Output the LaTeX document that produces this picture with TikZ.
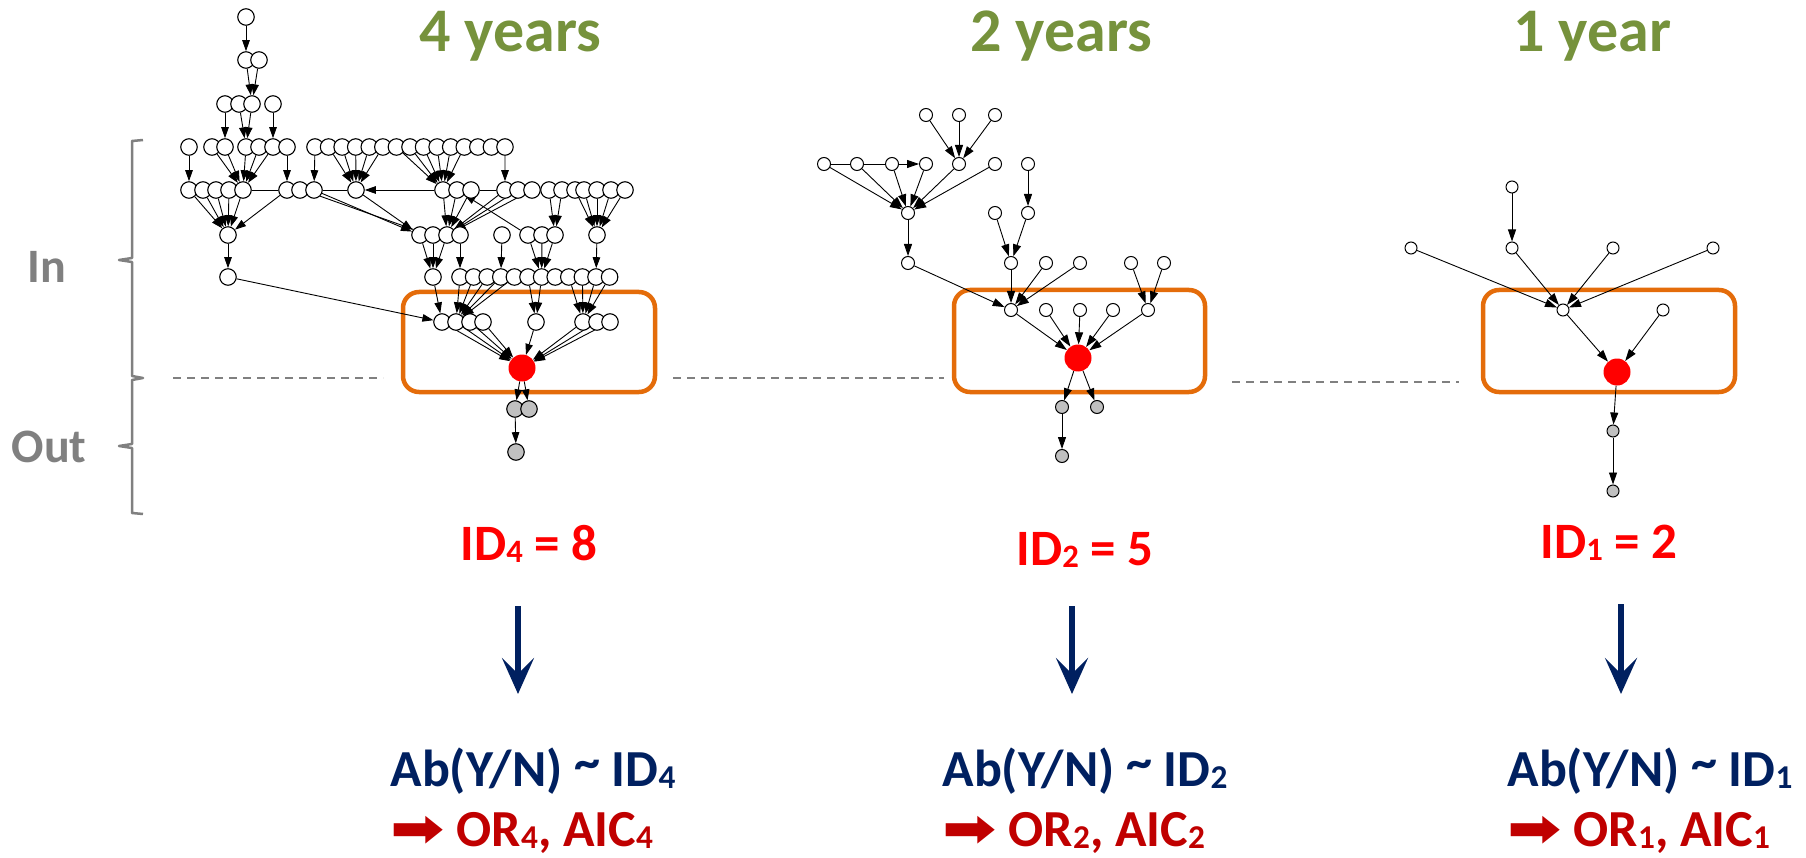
\documentclass[tikz,border=0pt]{standalone}
\usepackage{fontspec}
\setmainfont{Carlito}
\newfontfamily\arrowglyph{DejaVu Sans}
\usepackage{graphicx}
\usetikzlibrary{arrows.meta}
\definecolor{yeargreen}{HTML}{76923C}
\definecolor{idred}{HTML}{FF0000}
\definecolor{navyblue}{HTML}{002060}
\definecolor{darkred}{HTML}{C00000}
\definecolor{frameorange}{HTML}{E46C0A}
\definecolor{guidegray}{HTML}{808080}
\definecolor{outgray}{HTML}{C0C0C0}
\pgfdeclarelayer{frames}
\pgfdeclarelayer{links}
\pgfsetlayers{frames,links,main}
\newcommand\lowidx[1]{\raisebox{-0.04em}{\scalebox{0.64}{#1}}}
\newcommand\hightilde{\raisebox{0.12em}{\textasciitilde}}
\newcommand\resarrow{{\arrowglyph\scalebox{1.25}[1]{➡}}}
\begin{document}
\begin{tikzpicture}[x=1pt,y=-1pt,
  bn/.style={circle,draw=black,fill=white,line width=1.1pt,minimum size=16.5pt,inner sep=0pt},
  sn/.style={circle,draw=black,fill=white,line width=1pt,minimum size=13pt,inner sep=0pt},
  tn/.style={sn,minimum size=12pt},
  hubnode/.style={circle,fill=red,draw=none,minimum size=27pt,inner sep=0pt},
  outbig/.style={bn,fill=outgray},
  outsmall/.style={sn,fill=outgray},
  outtiny/.style={tn,fill=outgray},
  dag/.style={line width=0.9pt,-{Triangle[length=11pt,width=7.5pt]}},
  sdag/.style={line width=0.9pt,-{Triangle[length=12pt,width=8pt]}},
  plainline/.style={line width=0.9pt},
  yrframe/.style={draw=frameorange,line width=4.5pt,rounded corners=16pt},
  sepline/.style={draw=guidegray,line width=2pt,dash pattern=on 8pt off 6pt},
  bracket/.style={draw=guidegray,line width=2.5pt,line join=round},
  downarrow/.style={draw=navyblue,line width=6pt,-{Stealth[length=36pt,width=32pt,inset=16pt]}},
  yrtext/.style={font=\fontsize{62}{70}\selectfont\bfseries,text=yeargreen,anchor=base},
  idtext/.style={font=\fontsize{51}{60}\selectfont\bfseries,text=idred,anchor=base west},
  abtext/.style={font=\fontsize{52}{60}\selectfont\bfseries,text=navyblue,anchor=base west},
  ortext/.style={font=\fontsize{52}{60}\selectfont\bfseries,text=darkred,anchor=base west},
  inout/.style={font=\fontsize{48}{54}\selectfont\bfseries,text=guidegray}]
\useasboundingbox (0,0) rectangle (1806,858);

% ---------- side bracket and labels ----------
\coordinate (brtop) at (143,140);
\coordinate (brbot) at (143,514);
\draw[bracket] (brtop) -- (132,141) -- (132,258) -- (119,260) -- (132,262)
  -- (132,376) -- (143,378) -- (132,380) -- (132,444) -- (119,446) -- (132,448)
  -- (132,513) -- (brbot);
\node[inout] (inlbl) at (47,267) {In};
\node[inout] (outlbl) at (49,447) {Out};

% ---------- separators ----------
\coordinate (sa1) at (173,378); \coordinate (sa2) at (383,378);
\coordinate (sb1) at (673,378); \coordinate (sb2) at (944,378);
\coordinate (sc1) at (1232,382); \coordinate (sc2) at (1459,382);
\draw[sepline] (sa1) -- (sa2);
\draw[sepline] (sb1) -- (sb2);
\draw[sepline] (sc1) -- (sc2);

% ---------- titles ----------
\node[yrtext] (t4y) at (510,52) {4 years};
\node[yrtext] (t2y) at (1061,52) {2 years};
\node[yrtext] (t1y) at (1592,52) {1 year};

% ---------- 4-year graph ----------
\node[bn] (n1) at (246,17) {};
\node[bn] (n2a) at (246,60) {};
\node[bn] (n2b) at (259,60) {};
\foreach \nm/\x in {n3a/225,n3b/239,n3c/252,n3d/273} \node[bn] (\nm) at (\x,104) {};
\foreach \nm/\x in {la/189,lb/212,lc/225,ld/246,le/259,lf/273,lg/287} \node[bn] (\nm) at (\x,147) {};
\foreach \i in {1,...,15} \node[bn] (s\i) at ({315+(\i-1)*13.57},147) {};
\foreach \nm/\x in {q1/189,q2/203,q3/216,q4/229,q5/243,q6/287,q7/300,q8/314,q9/356,
  q10/443,q11/457,q12/471,q13/505,q14/518,q15/532,q16/549,q17/562,q18/575,q19/584,
  q20/597,q21/611,q22/625} \node[bn] (\nm) at (\x,190) {};
\node[bn] (dd) at (228,235) {};
\foreach \nm/\x in {t1/420,t2/433,t3/447,t4/460,t5/502,t6/528,t7/542,t8/555,t9/597}
  \node[bn] (\nm) at (\x,235) {};
\node[bn] (ee) at (228,277) {};
\node[bn] (u0) at (433,277) {};
\foreach \i in {1,...,12} \node[bn] (u\i) at ({460+(\i-1)*13.6},277) {};
\foreach \nm/\x in {v1/442,v2/456,v3/470,v4/483,v5/536,v6/583,v7/597,v8/610}
  \node[bn] (\nm) at (\x,322) {};
\node[hubnode] (h4) at (522,368) {};
\node[outbig] (g4a) at (515,409) {};
\node[outbig] (g4b) at (529,409) {};
\node[outbig] (g4c) at (516,452) {};

\begin{pgfonlayer}{links}
\draw[dag] (n1) -- (n2a);
\foreach \a in {n2a,n2b} \draw[dag] (\a) -- (n3c);
\draw[dag] (n3a) -- (lc);
\foreach \a in {n3b,n3c} \draw[dag] (\a) -- (ld);
\draw[dag] (n3d) -- (lf);
\draw[dag] (la) -- (q1);
\foreach \a in {lb,lc,ld,le,lf} \draw[dag] (\a) -- (q5);
\draw[dag] (lg) -- (q6);
\draw[dag] (s1) -- (q8);
\foreach \i in {2,...,6} \draw[dag] (s\i) -- (q9);
\foreach \i in {7,...,12} \draw[dag] (s\i) -- (q10);
\draw[dag] (s15) -- (q13);
\draw[plainline] (q5) -- (q6);
\draw[plainline] (q8) -- (q9);
\draw[dag] (q10) -- (q9);
\draw[plainline] (q12) -- (q13);
\foreach \a in {q1,q2,q3,q4,q5,q6} \draw[dag] (\a) -- (dd);
\draw[dag] (q8) -- (t1);
\draw[plainline] (q8.-45) -- (t1.140);
\draw[dag] (q9) -- (t1);
\foreach \a in {q10,q11,q12,q13,q14,q15} \draw[dag] (\a) -- (t3);
\draw[dag] (t6) -- (q11);
\foreach \a in {q16,q17} \draw[dag] (\a) -- (t8);
\foreach \a in {q18,q19,q20,q21,q22} \draw[dag] (\a) -- (t9);
\draw[dag] (dd) -- (ee);
\foreach \a in {t1,t2,t3} \draw[dag] (\a) -- (u0);
\draw[dag] (t4) -- (u1);
\draw[dag] (t5) -- (u4);
\foreach \a in {t6,t7,t8} \draw[dag] (\a) -- (u7);
\draw[dag] (t9) -- (u11);
\draw[dag] (ee) -- (v1);
\draw[dag] (u0) -- (v1);
\foreach \i in {1,...,5} \draw[dag] (u\i) -- (v2);
\foreach \i in {6,7} \draw[dag] (u\i) -- (v5);
\foreach \i in {9,...,12} \draw[dag] (u\i) -- (v6);
\foreach \a in {v1,v2,v3,v4,v5,v6,v7,v8} \draw[dag] (\a) -- (h4);
\foreach \a in {g4a,g4b} \draw[dag] (h4) -- (\a);
\draw[dag] (g4a) -- (g4c);
\end{pgfonlayer}

% ---------- 2-year graph ----------
\foreach \nm/\x/\y in {wa1/926/115,wa2/959/115,wa3/995/115,
  wb1/824/164,wb2/857/164,wb3/892/164,wb4/926/164,wb5/959/164,wb6/995/164,wb7/1028/164,
  wc1/908/213,wc2/995/213,wc3/1028/213,
  wd1/908/263,wd2/1011/263,wd3/1046/263,wd4/1080/263,wd5/1131/263,wd6/1164/263,
  we1/1011/310,we2/1046/310,we3/1080/310,we4/1113/310,we5/1148/310}
  \node[sn] (\nm) at (\x,\y) {};
\node[hubnode] (h2) at (1078,358) {};
\node[outsmall] (g2a) at (1062,407) {};
\node[outsmall] (g2b) at (1097,407) {};
\node[outsmall] (g2c) at (1062,456) {};

\begin{pgfonlayer}{links}
\foreach \a in {wa1,wa2,wa3} \draw[sdag] (\a) -- (wb5);
\draw[sdag] (wb1) -- (wb4);
\foreach \a in {wb1,wb2,wb3,wb4,wb5,wb6} \draw[sdag] (\a) -- (wc1);
\draw[sdag] (wb7) -- (wc3);
\draw[sdag] (wc1) -- (wd1);
\foreach \a in {wc2,wc3} \draw[sdag] (\a) -- (wd2);
\foreach \a in {wd1,wd2,wd3,wd4} \draw[sdag] (\a) -- (we1);
\foreach \a in {wd5,wd6} \draw[sdag] (\a) -- (we5);
\foreach \a in {we1,we2,we3,we4,we5} \draw[sdag] (\a) -- (h2);
\foreach \a in {g2a,g2b} \draw[sdag] (h2) -- (\a);
\draw[sdag] (g2a) -- (g2c);
\end{pgfonlayer}

% ---------- 1-year graph ----------
\foreach \nm/\x/\y in {zt/1512/187,zu/1512/248,zl/1411/248,zr1/1613/248,zr2/1713/248,
  zm/1563/310,zs/1663/310}
  \node[tn] (\nm) at (\x,\y) {};
\node[hubnode] (h1) at (1617,372) {};
\node[outtiny] (g1a) at (1613,431) {};
\node[outtiny] (g1b) at (1613,491) {};

\begin{pgfonlayer}{links}
\draw[sdag] (zt) -- (zu);
\foreach \a in {zl,zu,zr1,zr2} \draw[sdag] (\a) -- (zm);
\foreach \a in {zm,zs} \draw[sdag] (\a) -- (h1);
\draw[sdag] (h1) -- (g1a);
\draw[sdag] (g1a) -- (g1b);
\end{pgfonlayer}

% ---------- highlighted windows ----------
\begin{pgfonlayer}{frames}
\draw[yrframe] (403,292) rectangle (655,392);
\draw[yrframe] (954,290) rectangle (1205,392);
\draw[yrframe] (1483,290) rectangle (1735,392);
\end{pgfonlayer}

% ---------- in-degree values ----------
\node[idtext] (id4) at (457,560) {ID\lowidx{4} = 8};
\node[idtext] (id2) at (1013,565) {ID\lowidx{2} = 5};
\node[idtext] (id1) at (1537,558) {ID\lowidx{1} = 2};

% ---------- model arrows ----------
\coordinate (ar4a) at (518,606); \coordinate (ar4b) at (518,694);
\coordinate (ar2a) at (1072,606); \coordinate (ar2b) at (1072,694);
\coordinate (ar1a) at (1621,604); \coordinate (ar1b) at (1621,694);
\draw[downarrow] (ar4a) -- (ar4b);
\draw[downarrow] (ar2a) -- (ar2b);
\draw[downarrow] (ar1a) -- (ar1b);

% ---------- models ----------
\node[abtext] (ab4) at (387,786) {Ab(Y/N) \hightilde\ ID\lowidx{4}};
\node[abtext] (ab2) at (939,786) {Ab(Y/N) \hightilde\ ID\lowidx{2}};
\node[abtext] (ab1) at (1504,786) {Ab(Y/N) \hightilde\ ID\lowidx{1}};
\node[ortext] (or4) at (387,846) {\resarrow\ OR\lowidx{4}, AIC\lowidx{4}};
\node[ortext] (or2) at (939,846) {\resarrow\ OR\lowidx{2}, AIC\lowidx{2}};
\node[ortext] (or1) at (1504,846) {\resarrow\ OR\lowidx{1}, AIC\lowidx{1}};
\end{tikzpicture}
\end{document}
